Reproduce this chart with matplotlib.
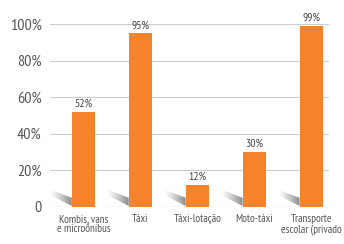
import matplotlib
matplotlib.use("Agg")
import matplotlib.pyplot as plt
import numpy as np
from matplotlib.patches import Polygon

categories = ["Kombis, vans\ne microônibus", "Táxi", "Táxi-lotação", "Moto-táxi", "Transporte\nescolar (privado"]
values = [52, 95, 12, 30, 99]
value_labels = ["52%", "95%", "12%", "30%", "99%"]
yticks = [0, 20, 40, 60, 80, 100]
ytick_labels = ["0", "20%", "40%", "60%", "80%", "100%"]

plt.rcParams['font.family'] = ["PT Sans Narrow", "DejaVu Sans"]

fig = plt.figure(figsize=(3.44, 2.44), dpi=100)
ax = fig.add_axes([0.145, 0.152, 0.811, 0.750])
x = list(range(len(categories)))
bw = 0.41
ax.bar(x, values, width=bw, color="#F5832B", zorder=3)

# decorative drop shadows at the bar bases (gradient clipped to a parallelogram)
dx = 0.38
grad = np.zeros((2, 64, 4))
grad[..., :3] = 0.35
grad[..., 3] = np.linspace(0.0, 0.75, 64) ** 1.2
for xi in x:
    L = xi - bw / 2
    poly = Polygon([(L, 0.5), (L, 5), (L - dx, 9.5), (L - dx, 6.5)], closed=True,
                   facecolor="none", edgecolor="none", transform=ax.transData)
    ax.add_patch(poly)
    im = ax.imshow(grad, extent=[L - dx, L, 0.5, 9.5], aspect="auto", origin="lower",
                   interpolation="bilinear", zorder=2)
    im.set_clip_path(poly)

for xi, v, lab in zip(x, values, value_labels):
    ax.text(xi, v + 1.5, lab, ha="center", va="bottom", fontsize=8.5, color="#444444", clip_on=False)
ax.set_xlim(-0.59, 4.31)
ax.set_ylim(0, 100)
ax.set_yticks(yticks)
ax.set_yticklabels(ytick_labels, fontsize=11.5, color="#555555")
ax.set_xticks(x)
ax.set_xticklabels(categories, fontsize=8, color="#555555", linespacing=1.0)
ax.tick_params(length=0, pad=6)
ax.tick_params(axis='x', pad=5)
ax.grid(axis='y', color="#cccccc", linewidth=0.8, zorder=0)
for s in ax.spines.values():
    s.set_visible(False)
ax.axhline(0, color="#cccccc", linewidth=0.8, zorder=1)
fig.savefig("out.png", dpi=100)
